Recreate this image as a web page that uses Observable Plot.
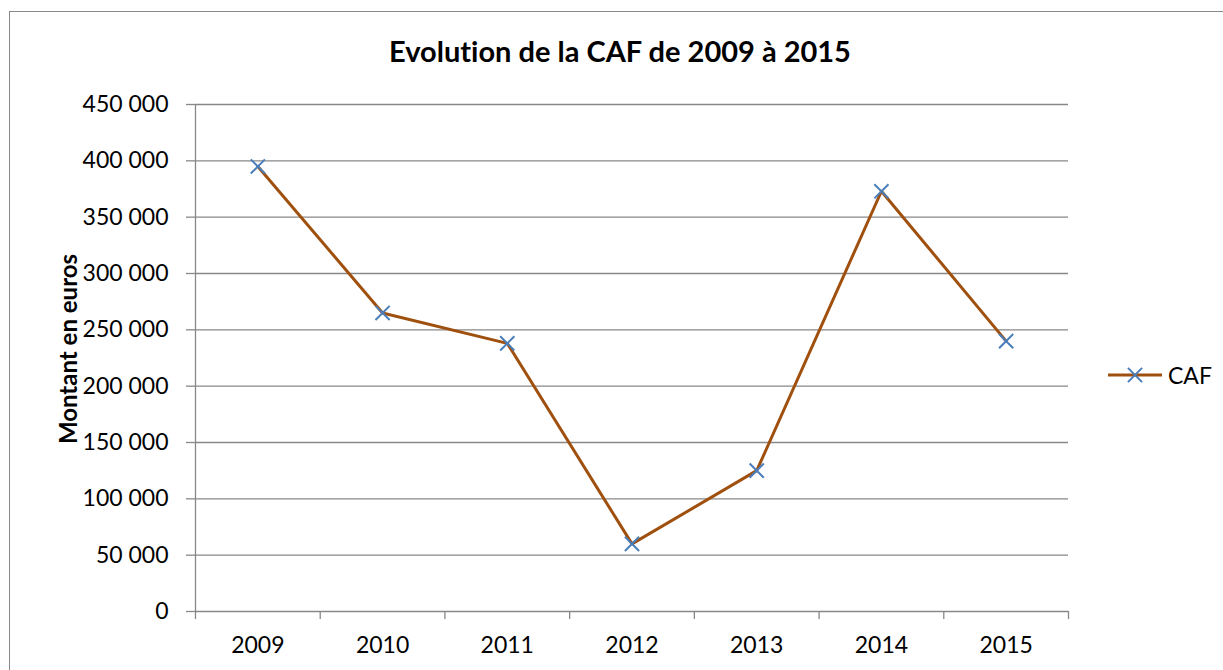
<!DOCTYPE html>
<html>
<head>
<meta charset="utf-8">
<script src="https://cdn.jsdelivr.net/npm/d3@7"></script>
<script src="https://cdn.jsdelivr.net/npm/@observablehq/plot@0.6"></script>
<style>
  html, body { margin: 0; padding: 0; background: #fff; }
  #wrap { position: relative; width: 1223px; height: 670px; overflow: hidden; font-family: Lato, "Open Sans", sans-serif; font-variant-ligatures: none; }
  #frame { position: absolute; left: 9px; top: 11px; width: 1240px; height: 720px; border: 1.5px solid #8a8a8a; box-sizing: border-box; }
  #title { position: absolute; left: 0; width: 1240px; top: 36px; text-align: center; font-weight: 700; font-size: 29px; color: #000; line-height: 1; font-variant-ligatures: none; }
  #ylabel { position: absolute; left: 68px; top: 349px; transform: translate(-50%, -50%) rotate(-90deg); font-weight: 700; font-size: 24px; white-space: nowrap; color: #000; line-height: 1; }
  #legend { position: absolute; left: 1106px; top: 361px; display: flex; align-items: center; font-size: 23px; color: #000; }
  #chart { position: absolute; left: 0; top: 0; }
</style>
</head>
<body>
<div id="wrap">
  <div id="frame"></div>
  <div id="chart"></div>
  <div id="title">Evolution de la CAF de 2009 à 2015</div>
  <div id="ylabel">Montant en euros</div>
  <div id="legend"></div>
</div>
<script>
// Data
const years = [2009, 2010, 2011, 2012, 2013, 2014, 2015];
const caf = [395000, 265000, 238000, 60000, 125000, 373000, 240000];
const yTicks = [0, 50000, 100000, 150000, 200000, 250000, 300000, 350000, 400000, 450000];
const seriesName = "CAF";

const lineColor = "#a0500e";
const markColor = "#4a7ebb";
const gridColor = "#888888";

const data = years.map((y, i) => ({year: y, value: caf[i]}));
const bandEdges = d3.range(years[0] - 0.5, years[years.length - 1] + 1, 1);
const fmt = d => d3.format(",")(d).replace(/,/g, " ");

const chart = Plot.plot({
  width: 1223,
  height: 670,
  marginLeft: 195,
  marginRight: 155,
  marginTop: 104,
  marginBottom: 59,
  style: {background: "transparent", fontFamily: "Lato, 'Open Sans', sans-serif"},
  x: {domain: [years[0] - 0.5, years[years.length - 1] + 0.5]},
  y: {domain: [0, 450000]},
  marks: [
    Plot.gridY(yTicks.slice(1), {stroke: gridColor, strokeOpacity: 1, strokeWidth: 1.3}),
    Plot.ruleX([bandEdges[0]], {stroke: gridColor, strokeWidth: 1.3}),
    Plot.ruleY([0], {stroke: gridColor, strokeWidth: 1.3}),
    Plot.axisY(yTicks, {tickSize: 9, tickPadding: 18, tickFormat: fmt, fontSize: 23, stroke: gridColor, strokeWidth: 1.3, label: null, color: "#000"}),
    Plot.axisX(bandEdges, {tickSize: 8, tickFormat: () => "", stroke: gridColor, strokeWidth: 1.3, label: null}),
    Plot.axisX(years, {tickSize: 0, tickPadding: 25, tickFormat: d => String(d), fontSize: 23, label: null}),
    Plot.line(data, {x: "year", y: "value", stroke: lineColor, strokeWidth: 3}),
    Plot.dot(data, {x: "year", y: "value", symbol: "times", r: 6.5, stroke: markColor, strokeWidth: 2})
  ]
});
document.getElementById("chart").appendChild(chart);

// Legend
const leg = d3.select("#legend");
const sw = leg.append("svg").attr("width", 58).attr("height", 20).style("margin-right", "4px");
sw.append("line").attr("x1", 2).attr("x2", 56).attr("y1", 10).attr("y2", 10).attr("stroke", lineColor).attr("stroke-width", 3);
sw.append("path").attr("d", d3.symbol(d3.symbolTimes, Math.PI * 6.5 * 6.5)()).attr("transform", "translate(29,10)").attr("stroke", markColor).attr("stroke-width", 2).attr("fill", "none");
leg.append("span").text(seriesName);
</script>
</body>
</html>
